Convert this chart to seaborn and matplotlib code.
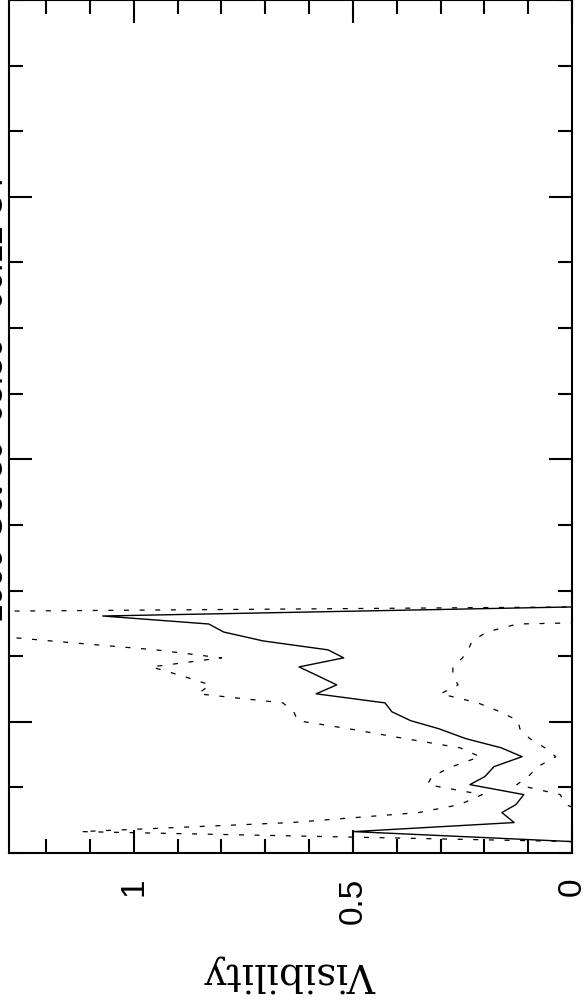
import matplotlib
matplotlib.use("Agg")
import matplotlib.pyplot as plt
from matplotlib.ticker import MultipleLocator
import pandas as pd
import seaborn as sns

W, H, DPI = 586, 1003, 100

# position of each sample along the (rotated) time axis, bottom to top
position = [10.87, 11.63, 12.32, 13.08, 13.69, 14.45, 15.21, 15.82, 16.58,
            17.34, 18.02, 18.71, 19.47, 20.08, 20.76, 21.44, 22.13, 22.81,
            23.50, 24.18, 24.87, 25.48, 26.16, 26.84, 27.45, 28.06, 28.75]

# visibility amplitude (solid line)
visibility = [0.0, 0.498, 0.132, 0.160, 0.128, 0.110, 0.233, 0.199, 0.178,
              0.114, 0.162, 0.242, 0.304, 0.368, 0.411, 0.427, 0.584, 0.537,
              0.580, 0.623, 0.521, 0.557, 0.705, 0.795, 0.829, 1.071, 0.0]

# upper and lower error envelopes (dotted lines)
upper = [0.0, 1.12, 0.64, 0.35, 0.256, 0.205, 0.33, 0.32, 0.274,
         0.21, 0.256, 0.38, 0.51, 0.626, 0.635, 0.66, 0.854, 0.826,
         0.89, 0.96, 0.80, 0.95, 1.19, 1.42, 1.53, 2.8, 0.0]
lower = [0.0, -0.12, -0.38, -0.03, 0.014, 0.027, 0.126, 0.10, 0.078,
         0.037, 0.062, 0.096, 0.119, 0.123, 0.164, 0.215, 0.30, 0.26,
         0.272, 0.272, 0.25, 0.237, 0.228, 0.194, 0.125, -0.8, 0.0]

vis_ticks = [0, 0.5, 1]
vis_labels = ["0", "0.5", "1"]
title = "1999 Oct 30  05:36 - 06:12 UT"
xlabel = "Visibility"

sns.set_theme(style="white")
plt.rcParams["font.family"] = ["Liberation Sans", "DejaVu Sans"]

df = pd.DataFrame({"pos": position, "vis": visibility,
                   "upper": upper, "lower": lower})

fig = plt.figure(figsize=(W / DPI, H / DPI), dpi=DPI)
ax = fig.add_axes([9 / W, 149 / H, 563 / W, 853 / H])

dots = (0, (4.0, 8.5))
sns.lineplot(data=df, x="upper", y="pos", sort=False, estimator=None,
             color="black", lw=0.9, linestyle=dots, ax=ax)
sns.lineplot(data=df, x="lower", y="pos", sort=False, estimator=None,
             color="black", lw=0.9, linestyle=dots, ax=ax)
sns.lineplot(data=df, x="vis", y="pos", sort=False, estimator=None,
             color="black", lw=1.0, ax=ax)

ax.set_xlim(1.285, 0)
ax.set_ylim(10, 75)
ax.set_xticks(vis_ticks)
ax.set_xticklabels(vis_labels)
ax.xaxis.set_minor_locator(MultipleLocator(0.1))
ax.yaxis.set_major_locator(MultipleLocator(20))
ax.yaxis.set_minor_locator(MultipleLocator(5))
ax.set_xlabel("")
ax.set_ylabel("")

for s in ax.spines.values():
    s.set_linewidth(1.5)
    s.set_color("black")
ax.tick_params(which="both", direction="in", width=1.5, color="black",
               top=True, bottom=True, left=True, right=True,
               labelleft=False, labelright=False, labeltop=False)
ax.tick_params(which="major", length=16.8)
ax.tick_params(which="minor", length=10.2)
ax.tick_params(axis="x", which="major", labelrotation=90, pad=17,
               labelsize=24, labelcolor="black")

fig.text(291 / W, 1 - 973 / H, xlabel, rotation=180, ha="center",
         va="center", fontsize=28, family="DejaVu Serif", color="black")

# title of the original page, almost entirely outside the frame (as in the source)
fig.text(3.5 / W, 1 - 397 / H, title, rotation=90, rotation_mode="anchor",
         ha="center", va="baseline", fontsize=24, color="black")

fig.savefig("out.png", dpi=DPI)
